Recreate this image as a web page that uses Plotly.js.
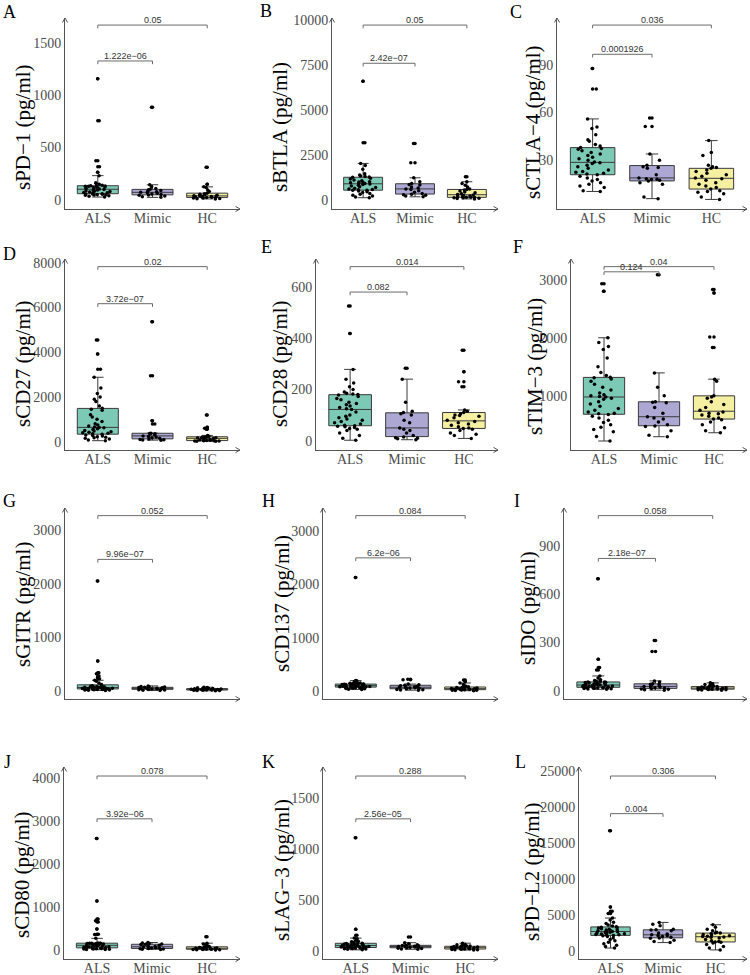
<!DOCTYPE html>
<html>
<head>
<meta charset="utf-8">
<script src="https://cdn.plot.ly/plotly-3.0.1.min.js"></script>
<style>
  html, body { margin: 0; padding: 0; background: #fff; }
  #chart { width: 750px; height: 975px; }
</style>
</head>
<body>
<div id="chart"></div>
<script>
// ---- data -------------------------------------------------------------
const groups = ['ALS', 'Mimic', 'HC'];
const markers = ['sPD\u22121', 'sBTLA', 'sCTLA\u22124', 'sCD27', 'sCD28', 'sTIM\u22123',
                 'sGITR', 'sCD137', 'sIDO', 'sCD80', 'sLAG\u22123', 'sPD\u2212L2'];
const panelLetters = ['A', 'B', 'C', 'D', 'E', 'F', 'G', 'H', 'I', 'J', 'K', 'L'];
const pAlsMimic = ['1.222e\u221206', '2.42e\u221207', '0.0001926', '3.72e\u221207', '0.082', '0.124',
                   '9.96e\u221207', '6.2e\u221206', '2.18e\u221207', '3.92e\u221206', '2.56e\u221205', '0.004'];
const pAlsHc = ['0.05', '0.05', '0.036', '0.02', '0.014', '0.04',
                '0.052', '0.084', '0.058', '0.078', '0.288', '0.306'];

// concentrations, pg/ml
const sPD1_ALS = [28, 35, 40, 44, 48, 50, 52, 54, 56, 58, 60, 64, 68, 72, 76, 80, 84, 88, 92, 96, 100, 104, 108, 112, 116, 120, 124, 128, 130, 132, 134, 136, 140, 150, 158, 165, 232, 265, 318, 373, 755, 1156];
const sPD1_Mimic = [25, 30, 38, 45, 48, 52, 58, 64, 70, 73, 78, 84, 90, 98, 102, 110, 125, 145, 885];
const sPD1_HC = [10, 12, 15, 18, 20, 22, 24, 26, 28, 30, 33, 36, 38, 40, 43, 46, 50, 55, 60, 65, 80, 95, 120, 125, 150, 312];

const sBTLA_ALS = [110, 150, 200, 250, 300, 350, 400, 440, 480, 520, 530, 550, 570, 600, 640, 680, 720, 760, 800, 840, 870, 900, 930, 940, 960, 980, 1000, 1050, 1100, 1150, 1200, 1250, 1270, 1290, 1320, 1380, 1450, 1700, 1900, 2020, 3180, 6600];
const sBTLA_Mimic = [160, 200, 250, 280, 300, 350, 420, 500, 560, 600, 650, 700, 820, 850, 900, 1000, 1220, 2055, 3140];
const sBTLA_HC = [40, 60, 80, 100, 110, 120, 130, 140, 160, 180, 200, 230, 260, 290, 330, 380, 430, 480, 540, 570, 600, 700, 800, 900, 1000, 1280];

const sCTLA4_ALS = [10.5, 11, 13, 14, 15, 16, 17, 18, 19, 20, 21, 21.5, 22, 22.5, 23, 24, 25, 26, 27, 28, 28.5, 29, 30, 31, 32, 33, 34, 35, 36, 37, 37.5, 38, 39, 40, 42, 43, 46, 50, 51, 56, 74.8, 87.6];
const sCTLA4_Mimic = [6, 7, 15, 16, 17, 17.5, 18, 18.2, 18.5, 19, 21, 25, 25.5, 26, 27, 30, 34, 51.3, 56.6];
const sCTLA4_HC = [5.5, 7, 9, 10, 10.5, 11, 12, 13, 14, 15, 16, 17.5, 18.5, 19, 20, 21, 22, 23, 24, 25, 25.5, 26, 27, 33, 35, 42.4];

const sCD27_ALS = [45, 80, 120, 150, 180, 200, 220, 250, 280, 300, 330, 350, 380, 400, 420, 450, 480, 500, 550, 580, 620, 640, 660, 700, 750, 800, 900, 1000, 1100, 1200, 1400, 1450, 1500, 1600, 1800, 1900, 2000, 2150, 2400, 2880, 3235, 3919, 4545];
const sCD27_Mimic = [70, 80, 90, 100, 120, 150, 180, 210, 230, 260, 300, 340, 360, 370, 380, 790, 940, 2950, 5360];
const sCD27_HC = [20, 25, 30, 35, 40, 45, 50, 60, 70, 80, 100, 120, 140, 160, 170, 180, 190, 200, 210, 220, 240, 280, 560, 600, 650, 1190];

const sCD28_ALS = [2, 10, 20, 30, 40, 45, 48, 52, 55, 57, 58, 60, 65, 70, 75, 80, 85, 90, 95, 100, 112, 122, 125, 130, 135, 140, 145, 150, 160, 165, 172, 178, 180, 182, 185, 190, 200, 210, 225, 240, 278, 418, 525];
const sCD28_Mimic = [4, 8, 10, 12, 15, 20, 30, 40, 45, 50, 70, 80, 100, 105, 110, 115, 150, 240, 282];
const sCD28_HC = [9, 20, 25, 30, 40, 45, 48, 50, 55, 60, 65, 70, 75, 80, 90, 95, 98, 100, 105, 110, 115, 120, 210, 230, 269, 353];

const sTIM3_ALS = [222, 300, 380, 420, 460, 500, 540, 580, 620, 650, 680, 690, 700, 720, 750, 780, 820, 860, 900, 940, 960, 980, 990, 1000, 1020, 1050, 1100, 1150, 1200, 1250, 1290, 1310, 1320, 1350, 1400, 1500, 1650, 1800, 1850, 1920, 2000, 2800, 2930];
const sTIM3_Mimic = [296, 320, 400, 470, 480, 500, 550, 600, 620, 640, 700, 800, 880, 890, 900, 1000, 1150, 1395, 3086];
const sTIM3_HC = [364, 400, 450, 500, 550, 590, 600, 620, 650, 670, 690, 700, 720, 750, 800, 850, 900, 960, 980, 1000, 1250, 1287, 1832, 2014, 2770, 2830];

const sGITR_ALS = [10, 15, 18, 20, 22, 25, 28, 30, 32, 35, 38, 40, 42, 45, 48, 50, 52, 55, 58, 60, 62, 65, 68, 70, 72, 75, 78, 80, 85, 90, 95, 100, 120, 150, 180, 200, 230, 250, 280, 320, 340, 560, 2050];
const sGITR_Mimic = [10, 15, 20, 25, 30, 35, 38, 40, 42, 45, 50, 55, 60, 65, 70, 75, 80, 85, 95];
const sGITR_HC = [5, 8, 10, 12, 14, 16, 18, 20, 22, 24, 26, 28, 30, 32, 34, 36, 38, 40, 42, 45, 48, 50, 55, 60, 65, 70];

const sCD137_ALS = [30, 35, 40, 45, 50, 55, 60, 65, 68, 70, 72, 75, 78, 80, 82, 85, 88, 90, 92, 95, 98, 100, 105, 108, 110, 112, 115, 118, 120, 122, 125, 128, 130, 135, 140, 145, 150, 160, 170, 180, 190, 195, 2126];
const sCD137_Mimic = [15, 20, 25, 30, 40, 50, 55, 60, 65, 70, 75, 80, 90, 100, 110, 115, 130, 210, 219];
const sCD137_HC = [6, 10, 12, 15, 18, 20, 25, 30, 32, 35, 38, 40, 42, 45, 50, 55, 60, 65, 70, 75, 80, 90, 120, 150, 180, 206];

const sIDO_ALS = [10, 12, 14, 15, 16, 17, 18, 19, 20, 21, 22, 24, 26, 28, 29, 30, 32, 33, 34, 35, 36, 37, 38, 40, 42, 44, 46, 48, 50, 52, 54, 55, 56, 58, 60, 65, 70, 80, 93, 130, 145, 197, 696];
const sIDO_Mimic = [5, 8, 10, 12, 15, 18, 20, 24, 26, 28, 30, 35, 40, 42, 45, 55, 62, 244, 312];
const sIDO_HC = [5, 6, 7, 8, 9, 10, 11, 12, 13, 14, 15, 16, 17, 18, 19, 20, 22, 24, 26, 27, 28, 30, 35, 40, 45, 50];

const sCD80_ALS = [10, 15, 20, 22, 25, 28, 30, 35, 40, 45, 50, 55, 60, 65, 70, 75, 80, 85, 90, 95, 100, 110, 120, 125, 130, 135, 140, 145, 150, 155, 156, 158, 160, 165, 272, 360, 365, 490, 650, 680, 720, 1140, 2598];
const sCD80_Mimic = [15, 20, 25, 30, 35, 40, 50, 60, 70, 77, 85, 95, 110, 130, 135, 140, 150, 165, 175];
const sCD80_HC = [3, 5, 8, 10, 12, 15, 18, 20, 22, 25, 28, 30, 35, 40, 45, 50, 55, 60, 70, 75, 80, 100, 120, 140, 160, 310];

const sLAG3_ALS = [10, 15, 18, 20, 22, 24, 26, 28, 29, 30, 32, 34, 36, 38, 40, 42, 44, 46, 48, 50, 52, 53, 54, 55, 56, 58, 60, 62, 65, 68, 70, 72, 75, 80, 85, 90, 95, 100, 120, 125, 153, 212, 1111];
const sLAG3_Mimic = [15, 18, 22, 25, 30, 32, 35, 38, 40, 42, 45, 48, 50, 52, 55, 60, 70, 80, 137];
const sLAG3_HC = [8, 10, 12, 14, 15, 16, 18, 20, 22, 24, 26, 28, 30, 32, 35, 38, 40, 42, 44, 45, 48, 50, 55, 60, 65, 75];

const sPDL2_ALS = [400, 600, 800, 1000, 1200, 1400, 1600, 1800, 2000, 2100, 2150, 2200, 2250, 2300, 2350, 2400, 2450, 2500, 2550, 2600, 2650, 2700, 2750, 2800, 2850, 2900, 2950, 3000, 3100, 3200, 3250, 3300, 3350, 3450, 3600, 3800, 4000, 4300, 4570, 5200, 5500, 6110, 16700];
const sPDL2_Mimic = [1160, 1300, 1500, 1750, 1800, 1900, 2000, 2100, 2150, 2240, 2350, 2500, 2800, 2900, 2950, 3000, 3500, 3700, 3960];
const sPDL2_HC = [140, 400, 600, 900, 1100, 1200, 1250, 1300, 1400, 1600, 1800, 1900, 1950, 2000, 2050, 2100, 2200, 2300, 2400, 2480, 2500, 2600, 2800, 3000, 3300, 3640];

const yTicks = [
  [0, 500, 1000, 1500],
  [0, 2500, 5000, 7500, 10000],
  [30, 60, 90],
  [0, 2000, 4000, 6000, 8000],
  [0, 200, 400, 600],
  [1000, 2000, 3000],
  [0, 1000, 2000, 3000],
  [0, 1000, 2000, 3000],
  [0, 300, 600, 900],
  [0, 1000, 2000, 3000, 4000],
  [0, 500, 1000, 1500],
  [0, 5000, 10000, 15000, 20000, 25000]
];

const panelValues = [
  [sPD1_ALS, sPD1_Mimic, sPD1_HC],
  [sBTLA_ALS, sBTLA_Mimic, sBTLA_HC],
  [sCTLA4_ALS, sCTLA4_Mimic, sCTLA4_HC],
  [sCD27_ALS, sCD27_Mimic, sCD27_HC],
  [sCD28_ALS, sCD28_Mimic, sCD28_HC],
  [sTIM3_ALS, sTIM3_Mimic, sTIM3_HC],
  [sGITR_ALS, sGITR_Mimic, sGITR_HC],
  [sCD137_ALS, sCD137_Mimic, sCD137_HC],
  [sIDO_ALS, sIDO_Mimic, sIDO_HC],
  [sCD80_ALS, sCD80_Mimic, sCD80_HC],
  [sLAG3_ALS, sLAG3_Mimic, sLAG3_HC],
  [sPDL2_ALS, sPDL2_Mimic, sPDL2_HC]
];

// ---- layout geometry (pixels in a 750 x 975 page) ----------------------
const W = 750, H = 975;
const rows = [
  { top: 18, bottom: 209, labels: true },
  { top: 259, bottom: 450, labels: true },
  { top: 508, bottom: 699, labels: false },
  { top: 767, bottom: 959, labels: true }
];
const colRight = [240, 498, 747];
const geom = [
  { left: 65,  range: [-86, 1735],    tx: 23,  ty: 127, lx: 9,   ly: 12.5, hi: 0.963, lo: 0.775 },
  { left: 332, range: [-521, 10135],  tx: 280, ty: 127, lx: 266, ly: 11,   hi: 0.963, lo: 0.763 },
  { left: 557, range: [-0.5, 119.3],  tx: 533, ty: 122, lx: 516, ly: 12.5, hi: 0.963, lo: 0.81 },
  { left: 65,  range: [-371, 8165],   tx: 23,  ty: 364, lx: 9,   ly: 254,  hi: 0.96,  lo: 0.766 },
  { left: 316, range: [-36, 708],     tx: 280, ty: 364, lx: 266, ly: 247,  hi: 0.96,  lo: 0.827 },
  { left: 571, range: [67, 3357],     tx: 535, ty: 367, lx: 518, ly: 247,  hi: 0.96,  lo: 0.933 },
  { left: 65,  range: [-149, 3410],   tx: 23,  ty: 605, lx: 9,   ly: 501,  hi: 0.96,  lo: 0.731 },
  { left: 323, range: [-150, 3431],   tx: 282, ty: 604, lx: 268, ly: 501,  hi: 0.96,  lo: 0.739 },
  { left: 564, range: [-50, 1134],    tx: 528, ty: 608, lx: 517, ly: 501,  hi: 0.96,  lo: 0.736 },
  { left: 64,  range: [-209, 4263],   tx: 22,  ty: 875, lx: 7,   ly: 762,  hi: 0.953, lo: 0.73 },
  { left: 323, range: [-80, 1805],    tx: 282, ty: 870, lx: 268, ly: 762,  hi: 0.953, lo: 0.73 },
  { left: 579, range: [-1120, 25560], tx: 532, ty: 872, lx: 520, ly: 762,  hi: 0.953, lo: 0.757 }
];

const fills = ['#7ccab6', '#aca8d3', '#f5efa2'];
const axisGrey = '#555555';
const tickGrey = '#4d4d4d';
const serif = 'Liberation Serif, Times New Roman, serif';
const sans = 'Liberation Sans, Arial, sans-serif';

const px = v => v / W;
const py = v => 1 - v / H;

const traces = [];
const layout = {
  width: W, height: H,
  margin: { l: 0, r: 0, t: 0, b: 0 },
  paper_bgcolor: '#ffffff',
  plot_bgcolor: '#ffffff',
  showlegend: false,
  boxmode: 'overlay',
  shapes: [],
  annotations: []
};

geom.forEach((g, i) => {
  const n = i + 1;
  const xa = n === 1 ? 'x' : 'x' + n;
  const ya = n === 1 ? 'y' : 'y' + n;
  const row = rows[Math.floor(i / 3)];
  const right = colRight[i % 3];

  panelValues[i].forEach((vals, k) => {
    // box, whiskers and outliers at the box centre
    traces.push({
      type: 'box', x0: groups[k], y: vals, xaxis: xa, yaxis: ya,
      width: 0.75, whiskerwidth: 0.28,
      fillcolor: fills[k], line: { color: '#3a3a3a', width: 1 },
      boxpoints: 'outliers', jitter: 0, pointpos: 0,
      marker: { color: '#000000', size: 3.5, line: { width: 0 } },
      hoverinfo: 'skip'
    });
    // every sample, jittered over the box
    traces.push({
      type: 'box', x0: groups[k], y: vals, xaxis: xa, yaxis: ya,
      width: 0.75,
      fillcolor: 'rgba(0,0,0,0)', line: { color: 'rgba(0,0,0,0)', width: 0 },
      boxpoints: 'all', jitter: 0.8, pointpos: 0,
      marker: { color: '#000000', size: 3.5, line: { width: 0 } },
      hoverinfo: 'skip'
    });
  });

  layout['xaxis' + (n === 1 ? '' : n)] = {
    domain: [px(g.left), px(right)], anchor: ya,
    type: 'category', categoryorder: 'array', categoryarray: groups,
    range: [-0.6, 2.6], fixedrange: true,
    showline: true, linecolor: axisGrey, linewidth: 1,
    showgrid: false, zeroline: false, ticks: '',
    ticklabelstandoff: -4,
    showticklabels: row.labels,
    tickfont: { family: serif, size: 14, color: tickGrey }
  };
  layout['yaxis' + (n === 1 ? '' : n)] = {
    domain: [py(row.bottom), py(row.top)], anchor: xa,
    range: g.range, fixedrange: true,
    tickvals: yTicks[i], ticktext: yTicks[i].map(String),
    showline: true, linecolor: axisGrey, linewidth: 1,
    showgrid: false, zeroline: false, ticks: '',
    tickfont: { family: serif, size: 14, color: tickGrey }
  };

  // arrow heads at the ends of both axes
  layout.shapes.push({
    type: 'path', xref: 'paper', yref: 'paper',
    path: `M ${px(g.left - 2.6)},${py(row.top + 4.5)} L ${px(g.left)},${py(row.top)} L ${px(g.left + 2.6)},${py(row.top + 4.5)}`,
    line: { color: axisGrey, width: 1 }
  });
  layout.shapes.push({
    type: 'path', xref: 'paper', yref: 'paper',
    path: `M ${px(right - 4.5)},${py(row.bottom - 2.6)} L ${px(right)},${py(row.bottom)} L ${px(right - 4.5)},${py(row.bottom + 2.6)}`,
    line: { color: axisGrey, width: 1 }
  });

  // significance brackets
  const tick = 3.2 / (row.bottom - row.top);
  [[1, g.lo, pAlsMimic[i]], [2, g.hi, pAlsHc[i]]].forEach(([to, f, label]) => {
    const yr = ya + ' domain';
    const lineStyle = { color: '#6b6b6b', width: 1 };
    layout.shapes.push({ type: 'line', xref: xa, yref: yr, x0: 0, x1: to, y0: f, y1: f, line: lineStyle });
    layout.shapes.push({ type: 'line', xref: xa, yref: yr, x0: 0, x1: 0, y0: f, y1: f - tick, line: lineStyle });
    layout.shapes.push({ type: 'line', xref: xa, yref: yr, x0: to, x1: to, y0: f, y1: f - tick, line: lineStyle });
    layout.annotations.push({
      xref: xa, yref: yr, x: to / 2, y: f, yshift: 5,
      xanchor: 'center', yanchor: 'middle', showarrow: false,
      text: label, font: { family: sans, size: 9, color: '#333333' }
    });
  });

  // y-axis title
  layout.annotations.push({
    xref: 'paper', yref: 'paper', x: px(g.tx), y: py(g.ty),
    xanchor: 'center', yanchor: 'middle', showarrow: false, textangle: -90,
    text: markers[i] + ' (pg/ml)',
    font: { family: serif, size: 21, color: '#000000' }
  });
  // panel letter
  layout.annotations.push({
    xref: 'paper', yref: 'paper', x: px(g.lx), y: py(g.ly),
    xanchor: 'center', yanchor: 'middle', showarrow: false,
    text: panelLetters[i],
    font: { family: serif, size: 18, color: '#000000' }
  });
});

Plotly.newPlot('chart', traces, layout, { displayModeBar: false, staticPlot: true });
</script>
</body>
</html>
